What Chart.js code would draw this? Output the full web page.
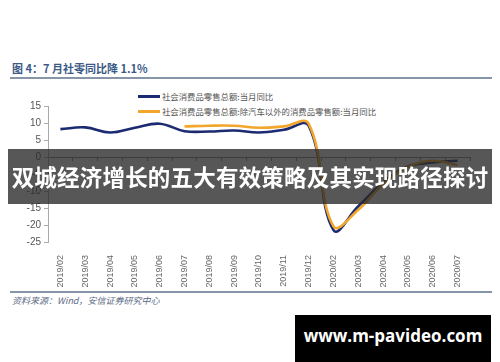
<!DOCTYPE html>
<html>
<head>
<meta charset="utf-8">
<script src="https://cdn.jsdelivr.net/npm/chart.js@4.4.1/dist/chart.umd.min.js"></script>
<style>
  html, body { margin: 0; padding: 0; background: #fff; }
  body { width: 500px; height: 362px; position: relative; overflow: hidden; font-family: "Noto Sans CJK SC", "Liberation Sans", sans-serif; }
  .title { position: absolute; left: 12px; top: 60px; font-size: 11px; font-weight: bold; color: #3b5a86; white-space: nowrap; }
  .rule { position: absolute; left: 10px; width: 482px; height: 2px; background: #8696a8; }
  .legend { position: absolute; left: 138px; top: 89px; font-size: 8.4px; color: #555; line-height: 15px; }
  .legend .item { display: flex; align-items: center; white-space: nowrap; }
  .legend .swatch { width: 22px; height: 2.5px; margin-right: 2px; }
  .chart-box { position: absolute; left: 0; top: 90px; width: 500px; height: 200px; }
  .source { position: absolute; left: 12px; top: 294px; font-size: 9px; font-style: italic; color: #5a6a85; white-space: nowrap; }
  .banner { position: absolute; left: 8px; top: 149px; width: 484px; height: 55px; background: rgba(40,40,40,0.78);
            color: #fff; font-weight: bold; font-size: 22.5px; line-height: 55px; text-align: center; white-space: nowrap; letter-spacing: 0.2px; }
  .mark { position: absolute; left: 295px; top: 315px; width: 196px; height: 47px; background: #000; color: #fff; white-space: nowrap;
          font-family: "Open Sans", sans-serif; font-weight: bold; font-size: 17px; line-height: 42px; text-align: center; }
</style>
</head>
<body>
<div class="title">图 4：7 月社零同比降 1.1%</div>
<div class="rule" style="top:77px"></div>
<div class="legend" id="legend"></div>
<div class="chart-box"><canvas id="chart"></canvas></div>
<div class="rule" style="top:291px"></div>
<div class="source">资料来源：Wind，安信证券研究中心</div>
<div class="banner">双城经济增长的五大有效策略及其实现路径探讨</div>
<div class="mark">www.m-pavideo.com</div>

<script>
const months = ['2019/02', '2019/03', '2019/04', '2019/05', '2019/06', '2019/07', '2019/08', '2019/09',
                '2019/10', '2019/11', '2019/12', '2020/02', '2020/03', '2020/04', '2020/05', '2020/06', '2020/07'];

// 当月同比, %
const retailTotal = [8.2, 8.7, 7.2, 8.6, 9.8, 7.6, 7.5, 7.8, 7.2, 8.0, 9.2, -21.5, -14.5, -7.5, -2.8, -1.6, -1.1];
const retailExAuto = [null, null, null, null, null, 9.0, 9.2, 9.2, 8.6, 9.0, 9.8, -20.4, -15.5, -8.0, -2.9, -1.1, -2.4];

const seriesNames = ['社会消费品零售总额:当月同比', '社会消费品零售总额:除汽车以外的消费品零售额:当月同比'];
const seriesColors = ['#1c2a72', '#f3a62c'];

const yTicks = [15, 10, 5, 0, -5, -10, -15, -20, -25];

// legend sits in the page, not in the canvas
const legendEl = document.getElementById('legend');
seriesNames.forEach((name, i) => {
    const row = document.createElement('div');
    row.className = 'item';
    row.innerHTML = `<span class="swatch" style="background:${seriesColors[i]}"></span><span>${name}</span>`;
    legendEl.appendChild(row);
});

const tickFont = { family: "'Liberation Sans', Arial, sans-serif", size: 10 };

new Chart(document.getElementById('chart'), {
    type: 'line',
    data: {
        labels: months,
        datasets: [
            {
                label: seriesNames[1],
                data: retailExAuto,
                borderColor: seriesColors[1],
                borderWidth: 2.6,
                tension: 0.4,
                pointRadius: 0,
                order: 0
            },
            {
                label: seriesNames[0],
                data: retailTotal,
                borderColor: seriesColors[0],
                borderWidth: 2.6,
                tension: 0.4,
                pointRadius: 0,
                order: 1
            }
        ]
    },
    options: {
        responsive: true,
        maintainAspectRatio: false,
        animation: false,
        layout: { padding: { top: 16, right: 30, left: 0, bottom: 0 } },
        scales: {
            x: {
                type: 'category',
                offset: true,
                grid: { display: false },
                border: { display: false },
                ticks: { color: '#666', font: { ...tickFont, size: 9 }, maxRotation: 90, minRotation: 90, autoSkip: false, padding: 5 },
                afterFit: (scale) => { scale.height = 48; }
            },
            zero: {
                type: 'category',
                axis: 'x',
                position: { y: 0 },
                offset: true,
                grid: { display: true, drawOnChartArea: false, offset: true, tickLength: 3, color: '#8a8a8a' },
                border: { display: true, color: '#8a8a8a', width: 1 },
                ticks: { display: false }
            },
            y: {
                min: -25,
                max: 15,
                afterBuildTicks: (scale) => { scale.ticks = yTicks.map(v => ({ value: v })); },
                grid: { drawOnChartArea: false, tickLength: 4, color: '#aaa' },
                border: { display: true, color: '#aaa' },
                ticks: { color: '#555', font: tickFont, padding: 3 },
                afterFit: (scale) => { scale.width = 48; }
            }
        },
        plugins: {
            legend: { display: false },
            tooltip: { enabled: false }
        }
    }
});
</script>
</body>
</html>
